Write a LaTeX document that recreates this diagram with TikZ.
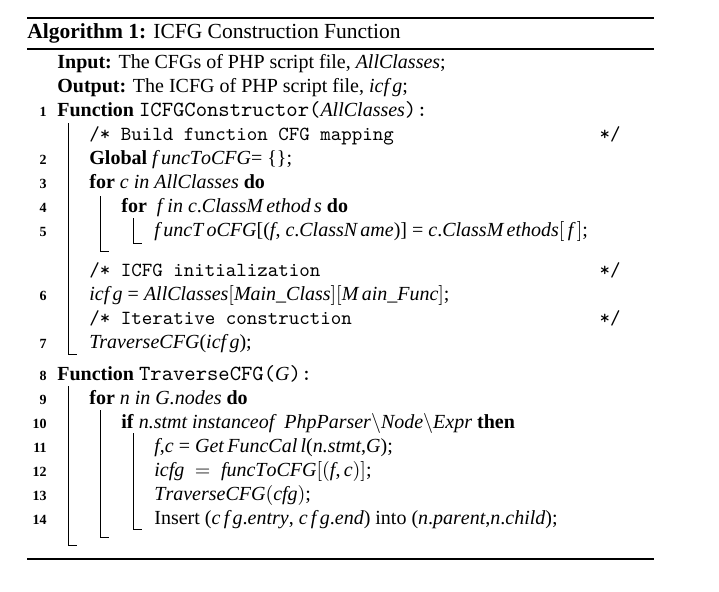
\documentclass[tikz,border=0pt]{standalone}
\usepackage{fontspec}
\setmainfont{Liberation Serif}[NFSSFamily=libser]
\DeclareSymbolFont{letters}{TU}{libser}{m}{it}
\mathcode`,="602C
\mathcode`.="002E
\newcommand\fname[1]{{\fontsize{10.8}{12}\ttfamily #1}}
\begin{document}
\begin{tikzpicture}[x=0.5pt,y=-0.5pt,
  lno/.style={anchor=base east,inner sep=0pt,font=\scriptsize\bfseries},
  txt/.style={anchor=base west,inner sep=0pt},
  cmt/.style={anchor=base west,inner sep=0pt,font=\ttfamily},
  cmtend/.style={anchor=base east,inner sep=0pt,font=\ttfamily},
  blk/.style={line width=0.5pt},
  rule/.style={line width=0.8pt}]
\useasboundingbox (0,0) rectangle (719,591);

\draw[rule] (27,18) -- (654,18);
\node[txt,font=\fontsize{10.75}{12.5}\selectfont] (title) at (27,38) {\textbf{Algorithm 1:} ICFG Construction Function};
\draw[rule] (27,49) -- (654,49);

\node[txt] (input) at (57,68) {\textbf{Input:} The CFGs of PHP script file, $AllClasses$;};
\node[txt] (output) at (57,92) {\textbf{Output:} The ICFG of PHP script file, $icf\,g$;};

\node[lno] (n1) at (47,116) {1};
\node[txt] (l1) at (57,116) {\textbf{Function} \fname{ICFGConstructor(}$AllClasses$\fname{):}};
\node[cmt] (c1) at (89,140) {/* Build function CFG mapping};
\node[cmtend] (c1e) at (621,140) {*/};
\node[lno] (n2) at (47,164) {2};
\node[txt] (l2) at (89,164) {\textbf{Global} $f\,uncToCFG$= \{\};};
\node[lno] (n3) at (47,188) {3};
\node[txt] (l3) at (89,188) {\textbf{for} \textit{c in AllClasses} \textbf{do}};
\node[lno] (n4) at (47,212) {4};
\node[txt] (l4) at (121,212) {\textbf{for} \ $f$ \textit{in} $c.ClassM\,ethod\,s$ \textbf{do}};
\node[lno] (n5) at (47,236) {5};
\node[txt] (l5) at (154,236) {$f\,uncT\,oCFG$[($f$, $c.ClassN\,ame$)] = $c.ClassM\,ethods[\,f\,]$;};
\node[cmt] (c2) at (89,276) {/* ICFG initialization};
\node[cmtend] (c2e) at (621,276) {*/};
\node[lno] (n6) at (47,300) {6};
\node[txt] (l6) at (89,300) {$icf\,g$ = \textit{AllClasses}$[$\textit{Main\_Class}$][M\,ain\_Func]$;};
\node[cmt] (c3) at (89,324) {/* Iterative construction};
\node[cmtend] (c3e) at (621,324) {*/};
\node[lno] (n7) at (47,348) {7};
\node[txt] (l7) at (89,348) {\textit{TraverseC}$FG$($icf\,g$);};

\draw[blk] (68,123) |- (77,354);
\draw[blk] (100,196) |- (109,251);
\draw[blk] (133,218) |- (142,243);

\node[lno] (n8) at (47,380) {8};
\node[txt] (l8) at (57,380) {\textbf{Function} \fname{TraverseCFG(}$G$\fname{):}};
\node[lno] (n9) at (47,404) {9};
\node[txt] (l9) at (89,404) {\textbf{for} \textit{n in G.nodes} \textbf{do}};
\node[lno] (n10) at (47,428) {10};
\node[txt] (l10) at (121,428) {\textbf{if} \textit{n.stmt instanceo}$f$\ \ $PhpParser\backslash Node\backslash Expr$ \textbf{then}};
\node[lno] (n11) at (47,452) {11};
\node[txt] (l11) at (154,452) {$f$,$c$ = $Get\,FuncCal\,l$(\textit{n.stmt},$G$);};
\node[lno] (n12) at (47,476) {12};
\node[txt] (l12) at (154,476) {$icfg\ =\ funcToCFG[(f,c)]$;};
\node[lno] (n13) at (47,500) {13};
\node[txt] (l13) at (154,500) {$TraverseCFG(cfg)$;};
\node[lno] (n14) at (47,524) {14};
\node[txt] (l14) at (154,524) {Insert ($c\,f\,g.entry$, $c\,f\,g.end$) into ($n.parent$,$n.child$);};

\draw[blk] (68,386) |- (77,545);
\draw[blk] (100,410) |- (109,537);
\draw[blk] (133,433) |- (142,529);

\draw[rule] (27,559) -- (654,559);
\end{tikzpicture}
\end{document}
